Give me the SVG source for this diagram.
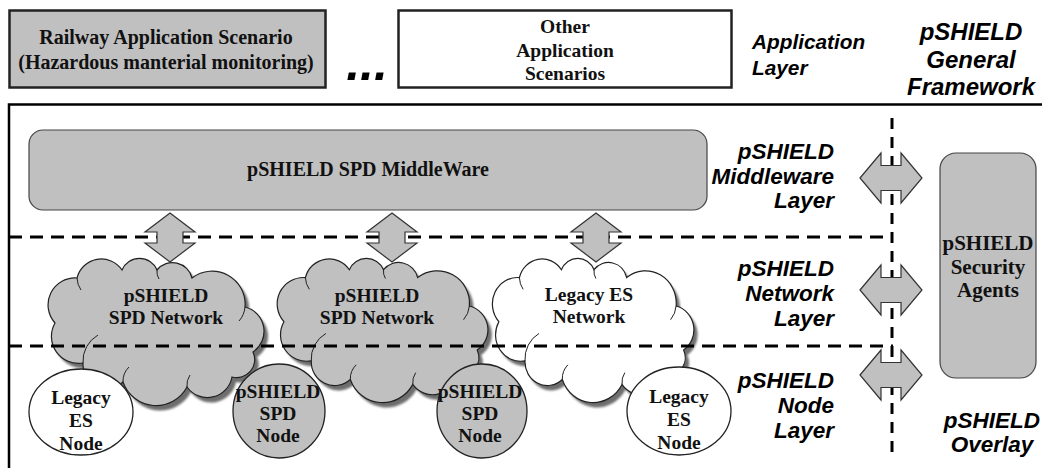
<svg xmlns="http://www.w3.org/2000/svg" width="1042" height="468" viewBox="0 0 1042 468">
<style>
.t{font-family:"Liberation Serif","Times New Roman",serif;font-weight:bold;font-size:19.5px;fill:#111;text-anchor:middle}
.l{font-family:"Liberation Sans",Arial,sans-serif;font-weight:bold;font-style:italic;font-size:22.5px;fill:#000}
.r{text-anchor:end}
.m{text-anchor:middle}
.box{stroke:#222;stroke-width:2.5}
.gray{fill:#c0c0c0}
.rr{fill:#c0c0c0;stroke:#444;stroke-width:1.2}
.cl{stroke:#222;stroke-width:1.2}
.sh{fill:#6e6e6e;filter:url(#blur)}
.dash{stroke:#000;stroke-width:3;stroke-dasharray:13 8;fill:none}
.arr{fill:#c0c0c0;stroke:#333;stroke-width:1.2}
.node{stroke:#222;stroke-width:1.3}
.inner{fill:none;stroke:#222;stroke-width:1}
</style>
<defs>
<filter id="blur" x="-10%" y="-10%" width="120%" height="120%"><feGaussianBlur stdDeviation="1.2"/></filter>
<path id="cloud" vector-effect="non-scaling-stroke" d="M2,66 A27,27 0 0 1 24,21 A25,25 0 0 1 69,13 A19,19 0 0 1 104,13 A20,20 0 0 1 139,21 A33,33 0 0 1 192,50 A25,25 0 0 1 200,95 A18,18 0 0 1 179,120 A25,25 0 0 1 134,130 A35,35 0 0 1 70,125 A24,24 0 0 1 30,106 A27,27 0 0 1 2,66 Z"/>
<path id="cloudIn" vector-effect="non-scaling-stroke" d="M30,106 A30,30 0 0 1 45,78 M70,125 A20,20 0 0 1 76,110 M134,130 A18,18 0 0 1 137,118 M192,50 A24,24 0 0 1 186,64 M104,13 A14,14 0 0 0 106,22 M24,21 A22,22 0 0 0 28,33"/>
</defs>

<path d="M9,468 V104.5 H1042" fill="none" stroke="#000" stroke-width="2.5"/>

<g id="railway">
<rect x="9.5" y="10.5" width="316" height="77" class="gray box"/>
<text class="t" x="166" y="44" style="font-size:20px">Railway Application Scenario</text>
<text class="t" x="166" y="69" style="font-size:20px">(Hazardous manterial monitoring)</text>
</g>
<text x="367" y="80" font-family="Liberation Sans, Arial, sans-serif" font-weight="bold" font-style="italic" font-size="50" text-anchor="middle">...</text>
<g id="other">
<rect x="398.5" y="10.5" width="333" height="77" fill="#fff" class="box"/>
<text class="t" x="565" y="33">Other</text>
<text class="t" x="565" y="57">Application</text>
<text class="t" x="565" y="80">Scenarios</text>
</g>
<g id="app-layer-label">
<text class="l" x="752" y="49" style="font-size:20.8px">Application</text>
<text class="l" x="752" y="75" style="font-size:20.8px">Layer</text>
</g>
<g id="framework-label">
<text class="l m" x="971" y="40" style="font-size:24px">pSHIELD</text>
<text class="l m" x="971" y="67.5" style="font-size:24px">General</text>
<text class="l m" x="971" y="95" style="font-size:24px">Framework</text>
</g>

<g id="middleware">
<rect x="29" y="130" width="678" height="80" rx="14" class="rr"/>
<text class="t" x="368" y="176" style="font-size:20px">pSHIELD SPD MiddleWare</text>
</g>

<g id="cloud1">
<g transform="translate(53,257)">
<use href="#cloud" class="sh" transform="translate(4,5)"/>
<use href="#cloud" fill="#c0c0c0" class="cl"/>
<use href="#cloudIn" class="inner"/>
</g>
<text class="t" x="166" y="302">pSHIELD</text>
<text class="t" x="166" y="324">SPD Network</text>
</g>
<g id="cloud2">
<g transform="translate(282,257) scale(0.976,0.98)">
<use href="#cloud" class="sh" transform="translate(4,5)"/>
<use href="#cloud" fill="#c0c0c0" class="cl"/>
<use href="#cloudIn" class="inner"/>
</g>
<text class="t" x="377" y="302">pSHIELD</text>
<text class="t" x="377" y="324">SPD Network</text>
</g>
<g id="cloud3">
<g transform="translate(497,257) scale(0.933,0.98)">
<use href="#cloud" class="sh" transform="translate(4,5)"/>
<use href="#cloud" fill="#fff" class="cl"/>
<use href="#cloudIn" class="inner"/>
</g>
<text class="t" x="589" y="301">Legacy ES</text>
<text class="t" x="589" y="323">Network</text>
</g>

<g id="legacy-node-1">
<ellipse cx="81" cy="412" rx="52" ry="43" fill="#fff" class="node"/>
<text class="t" x="81" y="404">Legacy</text>
<text class="t" x="81" y="427">ES</text>
<text class="t" x="81" y="450">Node</text>
</g>
<g id="spd-node-1">
<ellipse cx="279" cy="411" rx="46" ry="47" fill="#c0c0c0" class="node"/>
<text class="t" x="278" y="398">pSHIELD</text>
<text class="t" x="278" y="420">SPD</text>
<text class="t" x="278" y="442">Node</text>
</g>
<g id="spd-node-2">
<ellipse cx="482" cy="411" rx="45" ry="47" fill="#c0c0c0" class="node"/>
<text class="t" x="480" y="398">pSHIELD</text>
<text class="t" x="480" y="420">SPD</text>
<text class="t" x="480" y="442">Node</text>
</g>
<g id="legacy-node-2">
<ellipse cx="679" cy="411" rx="52" ry="44" fill="#fff" class="node"/>
<text class="t" x="679" y="403">Legacy</text>
<text class="t" x="679" y="426">ES</text>
<text class="t" x="679" y="449">Node</text>
</g>

<g id="layer-separators">
<path class="dash" d="M9,237 H893"/>
<path class="dash" d="M9,346 H893"/>
<path class="dash" d="M892,118 V460" style="stroke-dasharray:11 8"/>
</g>

<g id="layer-labels">
<text class="l r" x="834" y="159">pSHIELD</text>
<text class="l r" x="834" y="184">Middleware</text>
<text class="l r" x="834" y="208">Layer</text>
<text class="l r" x="834" y="276">pSHIELD</text>
<text class="l r" x="834" y="301">Network</text>
<text class="l r" x="834" y="326">Layer</text>
<text class="l r" x="834" y="388">pSHIELD</text>
<text class="l r" x="834" y="413">Node</text>
<text class="l r" x="834" y="438">Layer</text>
</g>

<g id="security-agents">
<rect x="940" y="153" width="96" height="225" rx="16" class="rr"/>
<text class="t" x="988" y="250" style="font-size:21px">pSHIELD</text>
<text class="t" x="988" y="274" style="font-size:21px">Security</text>
<text class="t" x="988" y="297" style="font-size:21px">Agents</text>
</g>
<g id="overlay-label">
<text class="l m" x="992" y="428">pSHIELD</text>
<text class="l m" x="992" y="452">Overlay</text>
</g>

<g id="connectors">
<polygon class="arr" points="170,213 195,232 183,232 183,243 195,243 170,262 145,243 157,243 157,232 145,232"/>
<polygon class="arr" points="392,213 417,232 405,232 405,243 417,243 392,262 367,243 379,243 379,232 367,232"/>
<polygon class="arr" points="596,213 621,232 609,232 609,243 621,243 596,262 571,243 583,243 583,232 571,232"/>
<polygon class="arr" points="860,178 881,153 881,165.5 901,165.5 901,153 922,178 901,203 901,190.5 881,190.5 881,203"/>
<polygon class="arr" points="860,290 881,265 881,277.5 901,277.5 901,265 922,290 901,315 901,302.5 881,302.5 881,315"/>
<polygon class="arr" points="860,375 881,350 881,362.5 901,362.5 901,350 922,375 901,400 901,387.5 881,387.5 881,400"/>
</g>
</svg>
